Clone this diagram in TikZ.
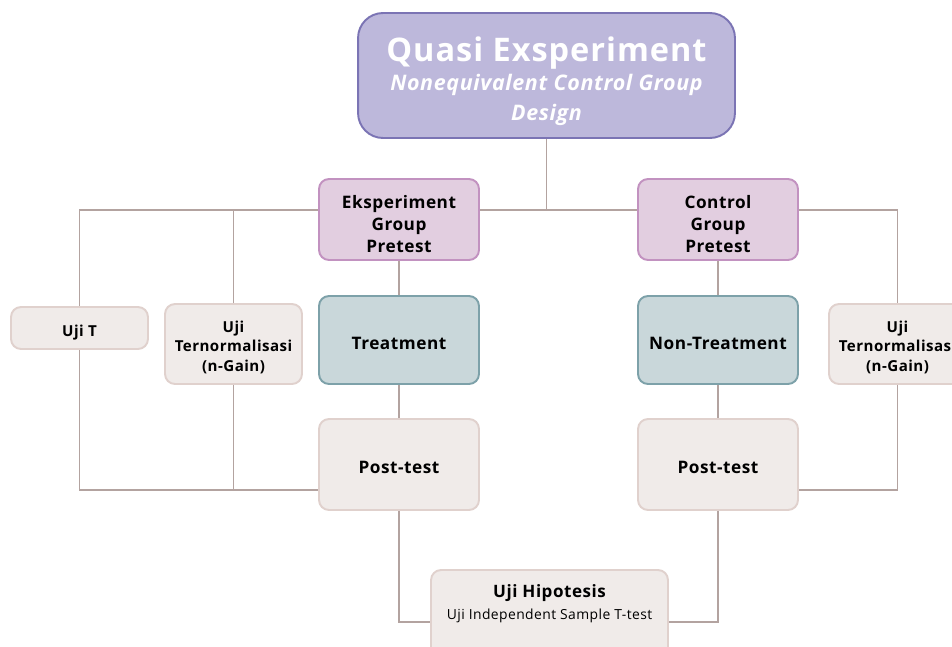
\documentclass[tikz,border=0pt]{standalone}
\usepackage{fontspec}
\setmainfont{Open Sans}[LetterSpace=3]
\usetikzlibrary{positioning, calc}

\definecolor{linegray}{HTML}{B3A3A0}
\definecolor{quasifill}{HTML}{BDB8DB}
\definecolor{quasiedge}{HTML}{7B74B4}
\definecolor{pretestfill}{HTML}{E2CEE0}
\definecolor{pretestedge}{HTML}{C292C0}
\definecolor{treatfill}{HTML}{C9D7DA}
\definecolor{treatedge}{HTML}{7DA1A9}
\definecolor{testfill}{HTML}{F0EBE9}
\definecolor{testedge}{HTML}{E0D1CD}

\tikzset{
  conn/.style={draw=linegray, line width=1.1pt},
  pretestbox/.style={draw=pretestedge, fill=pretestfill, line width=1.1pt, rounded corners=0.2cm,
    minimum width=3.2cm, minimum height=1.62cm, align=center, inner sep=2pt,
    text height=38pt, text depth=0pt,
    font=\fontsize{9.8}{12.5}\selectfont\bfseries},
  treatbox/.style={pretestbox, draw=treatedge, fill=treatfill, minimum height=1.76cm,
    text height=10.4pt},
  postbox/.style={pretestbox, draw=testedge, fill=testfill, minimum height=1.82cm,
    text height=9.8pt},
  ujibox/.style={draw=testedge, fill=testfill, line width=1.1pt, rounded corners=0.2cm,
    minimum width=2.74cm, align=center, inner sep=2pt,
    text height=31pt, text depth=0pt,
    font=\fontsize{8.6}{11}\selectfont\bfseries},
}

\begin{document}
\begin{tikzpicture}[x=0.02cm, y=-0.02cm]
  \useasboundingbox (0,0) rectangle (952,646);
  \clip (0,0) rectangle (952,646);

  % Design
  \node[draw=quasiedge, fill=quasifill, line width=1.1pt, rounded corners=0.5cm,
        minimum width=7.54cm, minimum height=2.5cm, align=center, text=white, inner sep=2pt,
        text height=51.5pt, text depth=0pt,
        font=\fontsize{12.2}{17}\selectfont\bfseries\itshape] (quasi) at (546.5,75.5) {
    {\fontsize{18.5}{20}\selectfont\upshape Quasi Exsperiment}\\
    Nonequivalent Control Group\\
    Design
  };

  % Experiment and control groups
  \node[pretestbox] (eks) at (399,219.5) {Eksperiment\\Group\\Pretest};
  \node[pretestbox] (ctrl) at (718,219.5) {Control\\Group\\Pretest};

  \node[treatbox] (treat) at (399,340) {Treatment};
  \node[treatbox] (nontreat) at (718,340) {Non-Treatment};

  \node[postbox] (postL) at (399,464.5) {Post-test};
  \node[postbox] (postR) at (718,464.5) {Post-test};

  % Analysis boxes
  \node[ujibox, minimum height=0.84cm, text height=10pt] (ujiT) at (79.5,328) {Uji T};
  \node[ujibox, minimum height=1.6cm] (ternL) at (233.5,344) {Uji\\Ternormalisasi\\(n-Gain)};
  \node[ujibox, minimum height=1.6cm] (ternR) at (897.5,344) {Uji\\Ternormalisasi\\(n-Gain)};

  \node[draw=testedge, fill=testfill, line width=1.1pt, rounded corners=0.2cm,
        minimum width=4.74cm, minimum height=2cm, align=center, inner sep=2pt,
        text height=19.5pt, text depth=20.6pt,
        font=\fontsize{7.9}{12.5}\selectfont] (hipo) at (549.5,620) {
    {\fontsize{9.7}{12}\selectfont\bfseries Uji Hipotesis}\\
    Uji Independent Sample T-test
  };

  % Rails
  \coordinate (railTop) at (0,210);
  \coordinate (railBot) at (0,490);
  \coordinate (railHip) at (0,622);

  \draw[conn] (quasi.south) -- (quasi.south |- railTop);
  \draw[conn] (eks.east |- railTop) -- (ctrl.west |- railTop);
  \draw[conn] (ujiT.north) |- (eks.west |- railTop);
  \draw[conn] (ternL.north) -- (ternL.north |- railTop);
  \draw[conn] (ctrl.east |- railTop) -| (ternR.north);

  \draw[conn] (ujiT.south) |- (postL.west |- railBot);
  \draw[conn] (ternL.south) -- (ternL.south |- railBot);
  \draw[conn] (ternR.south) |- (postR.east |- railBot);

  \draw[conn] (eks) -- (treat);
  \draw[conn] (treat) -- (postL);
  \draw[conn] (ctrl) -- (nontreat);
  \draw[conn] (nontreat) -- (postR);

  \draw[conn] (postL.south) |- (hipo.west |- railHip);
  \draw[conn] (postR.south) |- (hipo.east |- railHip);
\end{tikzpicture}
\end{document}
